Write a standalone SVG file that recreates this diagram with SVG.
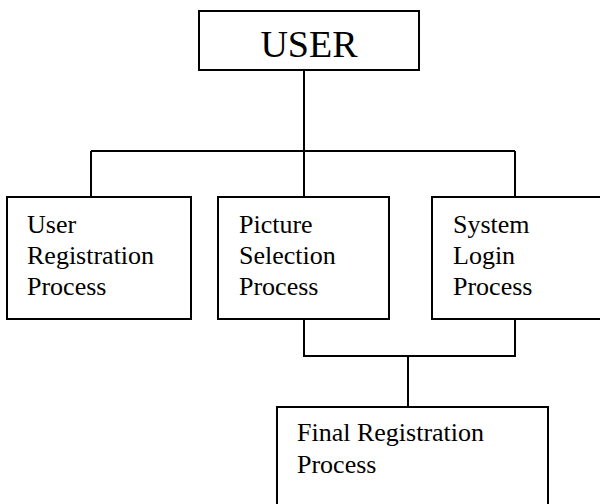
<svg xmlns="http://www.w3.org/2000/svg" width="600" height="504" viewBox="0 0 600 504">
<style>
.box{fill:#fff;stroke:#000;stroke-width:2}
.ln{fill:none;stroke:#000;stroke-width:2}
text{font-family:"Liberation Serif","Times New Roman",serif;font-size:26px;fill:#000}
</style>
<rect width="600" height="504" fill="#fff"/>
<g id="connectors">
<path class="ln" d="M304,70 V151 M91,151 H515 M91,151 V197 M304,151 V197 M515,151 V197"/>
<path class="ln" d="M304,319 V356 H515 V319 M408,356 V407"/>
</g>
<g id="user">
<rect class="box" x="199" y="11" width="220" height="59"/>
<text x="309" y="57" text-anchor="middle" style="font-size:38px">USER</text>
</g>
<g id="user-registration">
<rect class="box" x="7" y="197" width="184" height="122"/>
<text x="27" y="233">User</text>
<text x="27" y="264">Registration</text>
<text x="27" y="295">Process</text>
</g>
<g id="picture-selection">
<rect class="box" x="218" y="197" width="171" height="122"/>
<text x="239" y="233">Picture</text>
<text x="239" y="264">Selection</text>
<text x="239" y="295">Process</text>
</g>
<g id="system-login">
<rect class="box" x="432" y="197" width="180" height="122"/>
<text x="453" y="233">System</text>
<text x="453" y="264">Login</text>
<text x="453" y="295">Process</text>
</g>
<g id="final-registration">
<rect class="box" x="277" y="407" width="271" height="110"/>
<text x="297" y="441">Final Registration</text>
<text x="297" y="473">Process</text>
</g>
</svg>
